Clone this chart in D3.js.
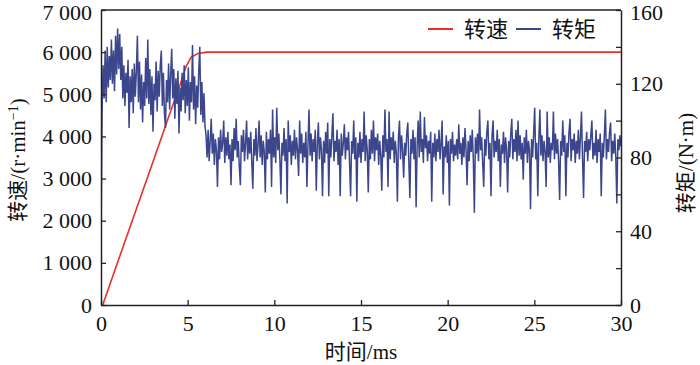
<!DOCTYPE html>
<html>
<head>
<meta charset="utf-8">
<script src="https://cdn.jsdelivr.net/npm/d3@7"></script>
<style>
  body { margin: 0; background: #fff; }
  svg { display: block; }
</style>
</head>
<body>
<svg id="chart" width="700" height="365"></svg>
<script>
// tick values
const timeTicks = [0, 5, 10, 15, 20, 25, 30];
const speedTicks = [0, 1000, 2000, 3000, 4000, 5000, 6000, 7000];
const torqueTicks = [0, 20, 40, 60, 80, 100, 120, 140, 160];
const torqueLabels = [0, 40, 80, 120, 160];

// speed (r/min)
const speedTime = [0.1, 1, 2, 3, 4, 4.5, 4.9, 5.2, 5.6, 6.1, 10, 20, 30];
const speedValues = [0, 1060, 2230, 3400, 4580, 5150, 5650, 5880, 5970, 6000, 6000, 6000, 6000];

// torque (N·m), one sample every torqueStep ms starting at t = 0
const torqueStep = 0.06;
const torqueValues = [
  35,105,130,112,138,110,140,118,135,122,144,120,138,116,146,125,150,128,147,122,140,
  112,130,108,126,115,133,96,124,110,128,104,131,113,127,146,110,132,106,125,99,
  121,108,134,112,144,109,128,103,124,94,120,111,132,105,127,113,130,138,108,126,
  104,96,122,110,131,106,125,139,112,128,101,123,109,127,93,118,105,126,111,130,
  104,122,108,129,100,121,110,141,106,124,98,119,107,127,140,103,121,99,115,97,
  92,80,95,78,89,101,82,93,76,90,84,64,91,79,95,83,88,100,77,91,
  81,94,79,87,65,90,78,96,84,101,80,89,75,65,92,83,95,78,88,100,
  79,91,82,94,77,63,90,81,96,78,87,100,80,92,76,89,83,61,94,79,
  90,82,95,64,106,80,91,77,107,84,93,79,60,88,81,96,78,90,55,100,
  83,92,76,89,81,95,79,91,84,70,100,82,93,77,88,80,94,64,87,106,
  81,93,78,90,83,95,62,88,99,79,91,84,59,89,77,94,82,99,59,90,
  80,92,104,78,89,83,95,76,90,59,93,81,88,98,79,91,84,94,77,59,
  89,82,100,79,91,56,88,80,94,77,90,83,105,78,92,84,61,90,79,95,
  82,100,78,91,84,93,76,89,81,62,92,80,106,83,90,64,105,79,91,84,
  94,77,89,82,56,91,100,79,92,84,69,88,81,93,99,78,58,90,82,95,
  79,91,53,87,100,80,105,83,90,77,102,85,92,78,89,82,94,56,88,80,
  93,78,90,83,95,79,88,100,60,86,80,92,77,89,54,90,82,94,78,87,
  81,90,79,98,82,88,76,91,80,96,84,65,89,78,92,83,95,79,50,91,
  82,93,78,106,84,91,77,64,90,81,94,100,79,88,59,92,100,80,89,83,
  95,78,90,64,87,82,94,77,91,84,61,89,80,93,101,79,90,83,95,78,
  100,81,92,79,88,68,91,82,95,77,89,84,52,90,80,93,107,79,88,59,
  90,106,81,92,78,89,83,64,105,80,91,77,88,84,105,79,93,82,90,78,
  57,89,81,100,83,92,59,88,80,94,101,78,90,84,93,77,89,82,95,79,
  91,105,80,58,89,83,94,78,90,84,92,100,79,88,81,95,77,90,83,93,
  59,88,80,92,106,79,90,83,94,99,78,89,82,93,80,55,90,84,92,86
];

const width = 700, height = 365;
const margin = { top: 10, right: 79, bottom: 60, left: 101 };
const plotW = width - margin.left - margin.right;
const plotH = height - margin.top - margin.bottom;

const red = "#e8302a";
const blue = "#3c468c";
const axisColor = "#222";
const fontStack = "'Liberation Serif', 'Times New Roman', 'Noto Sans CJK SC', serif";

const svg = d3.select("#chart");
const g = svg.append("g").attr("transform", `translate(${margin.left},${margin.top})`);

const x = d3.scaleLinear().domain([0, 30]).range([0, plotW]);
const ySpeed = d3.scaleLinear().domain([0, 7000]).range([plotH, 0]);
const yTorque = d3.scaleLinear().domain([0, 160]).range([plotH, 0]);

// clip so the traces stay inside the frame
svg.append("defs").append("clipPath").attr("id", "plot-clip")
  .append("rect").attr("width", plotW).attr("height", plotH);

const speedData = speedTime.map((t, i) => ({ t: t, v: speedValues[i] }));
const torqueData = torqueValues.map((v, i) => ({ t: i * torqueStep, v: v }));

const traces = g.append("g").attr("clip-path", "url(#plot-clip)");

traces.append("path")
  .datum(speedData)
  .attr("fill", "none")
  .attr("stroke", red)
  .attr("stroke-width", 1.6)
  .attr("d", d3.line().x(d => x(d.t)).y(d => ySpeed(d.v)));

traces.append("path")
  .datum(torqueData)
  .attr("fill", "none")
  .attr("stroke", blue)
  .attr("stroke-width", 1.5)
  .attr("stroke-linejoin", "miter")
  .attr("d", d3.line().x(d => x(d.t)).y(d => yTorque(d.v)));

// axes, ticks pointing inward
const fmtSpeed = d => d === 0 ? "0" : d3.format(",")(d).replace(/,/g, " ");

const xAxis = g.append("g")
  .attr("transform", `translate(0,${plotH})`)
  .call(d3.axisBottom(x).tickValues(timeTicks).tickSizeInner(-5).tickSizeOuter(0).tickPadding(9));

const yLeft = g.append("g")
  .call(d3.axisLeft(ySpeed).tickValues(speedTicks).tickSizeInner(-5).tickSizeOuter(0).tickPadding(9).tickFormat(fmtSpeed));

const yRight = g.append("g")
  .attr("transform", `translate(${plotW},0)`)
  .call(d3.axisRight(yTorque).tickValues(torqueTicks).tickSizeInner(-5).tickSizeOuter(0).tickPadding(9)
    .tickFormat(d => torqueLabels.includes(d) ? d : ""));

// top border
g.append("line")
  .attr("x1", 0).attr("x2", plotW).attr("y1", 0).attr("y2", 0)
  .attr("stroke", axisColor).attr("stroke-width", 1.5);

[xAxis, yLeft, yRight].forEach(a => {
  a.select(".domain").attr("stroke", axisColor).attr("stroke-width", 1.5);
  a.selectAll(".tick line").attr("stroke", axisColor).attr("stroke-width", 1.3);
  a.selectAll(".tick text")
    .attr("fill", "#111")
    .style("font-family", fontStack)
    .style("font-size", "22px");
});
xAxis.selectAll(".tick text").attr("dy", "0.75em");
// keep the top labels inside the picture
yLeft.selectAll(".tick text").filter(d => d === 7000).attr("dy", "0.45em");
yRight.selectAll(".tick text").filter(d => d === 160).attr("dy", "0.45em");

// axis titles
const titleStyle = sel => sel
  .attr("fill", "#111")
  .style("font-family", fontStack)
  .style("font-size", "21px");

svg.append("text")
  .attr("x", margin.left + plotW / 2)
  .attr("y", 359)
  .attr("text-anchor", "middle")
  .call(titleStyle)
  .text("时间/ms");

const leftTitle = svg.append("text")
  .attr("transform", "translate(25,160) rotate(-90)")
  .attr("text-anchor", "middle")
  .call(titleStyle);
leftTitle.append("tspan").text("转速/(r·min");
leftTitle.append("tspan").attr("baseline-shift", "super").style("font-size", "14px").text("−1");
leftTitle.append("tspan").text(")");

svg.append("text")
  .attr("transform", "translate(693,163) rotate(-90)")
  .attr("text-anchor", "middle")
  .call(titleStyle)
  .text("转矩/(N·m)");

// legend
const legendItems = [
  { label: "转速", color: red, x: 428 },
  { label: "转矩", color: blue, x: 516 }
];
const legend = svg.append("g");
legendItems.forEach(item => {
  legend.append("line")
    .attr("x1", item.x).attr("x2", item.x + 25)
    .attr("y1", 29).attr("y2", 29)
    .attr("stroke", item.color).attr("stroke-width", 2);
  legend.append("text")
    .attr("x", item.x + 36).attr("y", 29)
    .attr("dy", "0.36em")
    .call(titleStyle)
    .style("font-size", "22px")
    .text(item.label);
});
</script>
</body>
</html>
